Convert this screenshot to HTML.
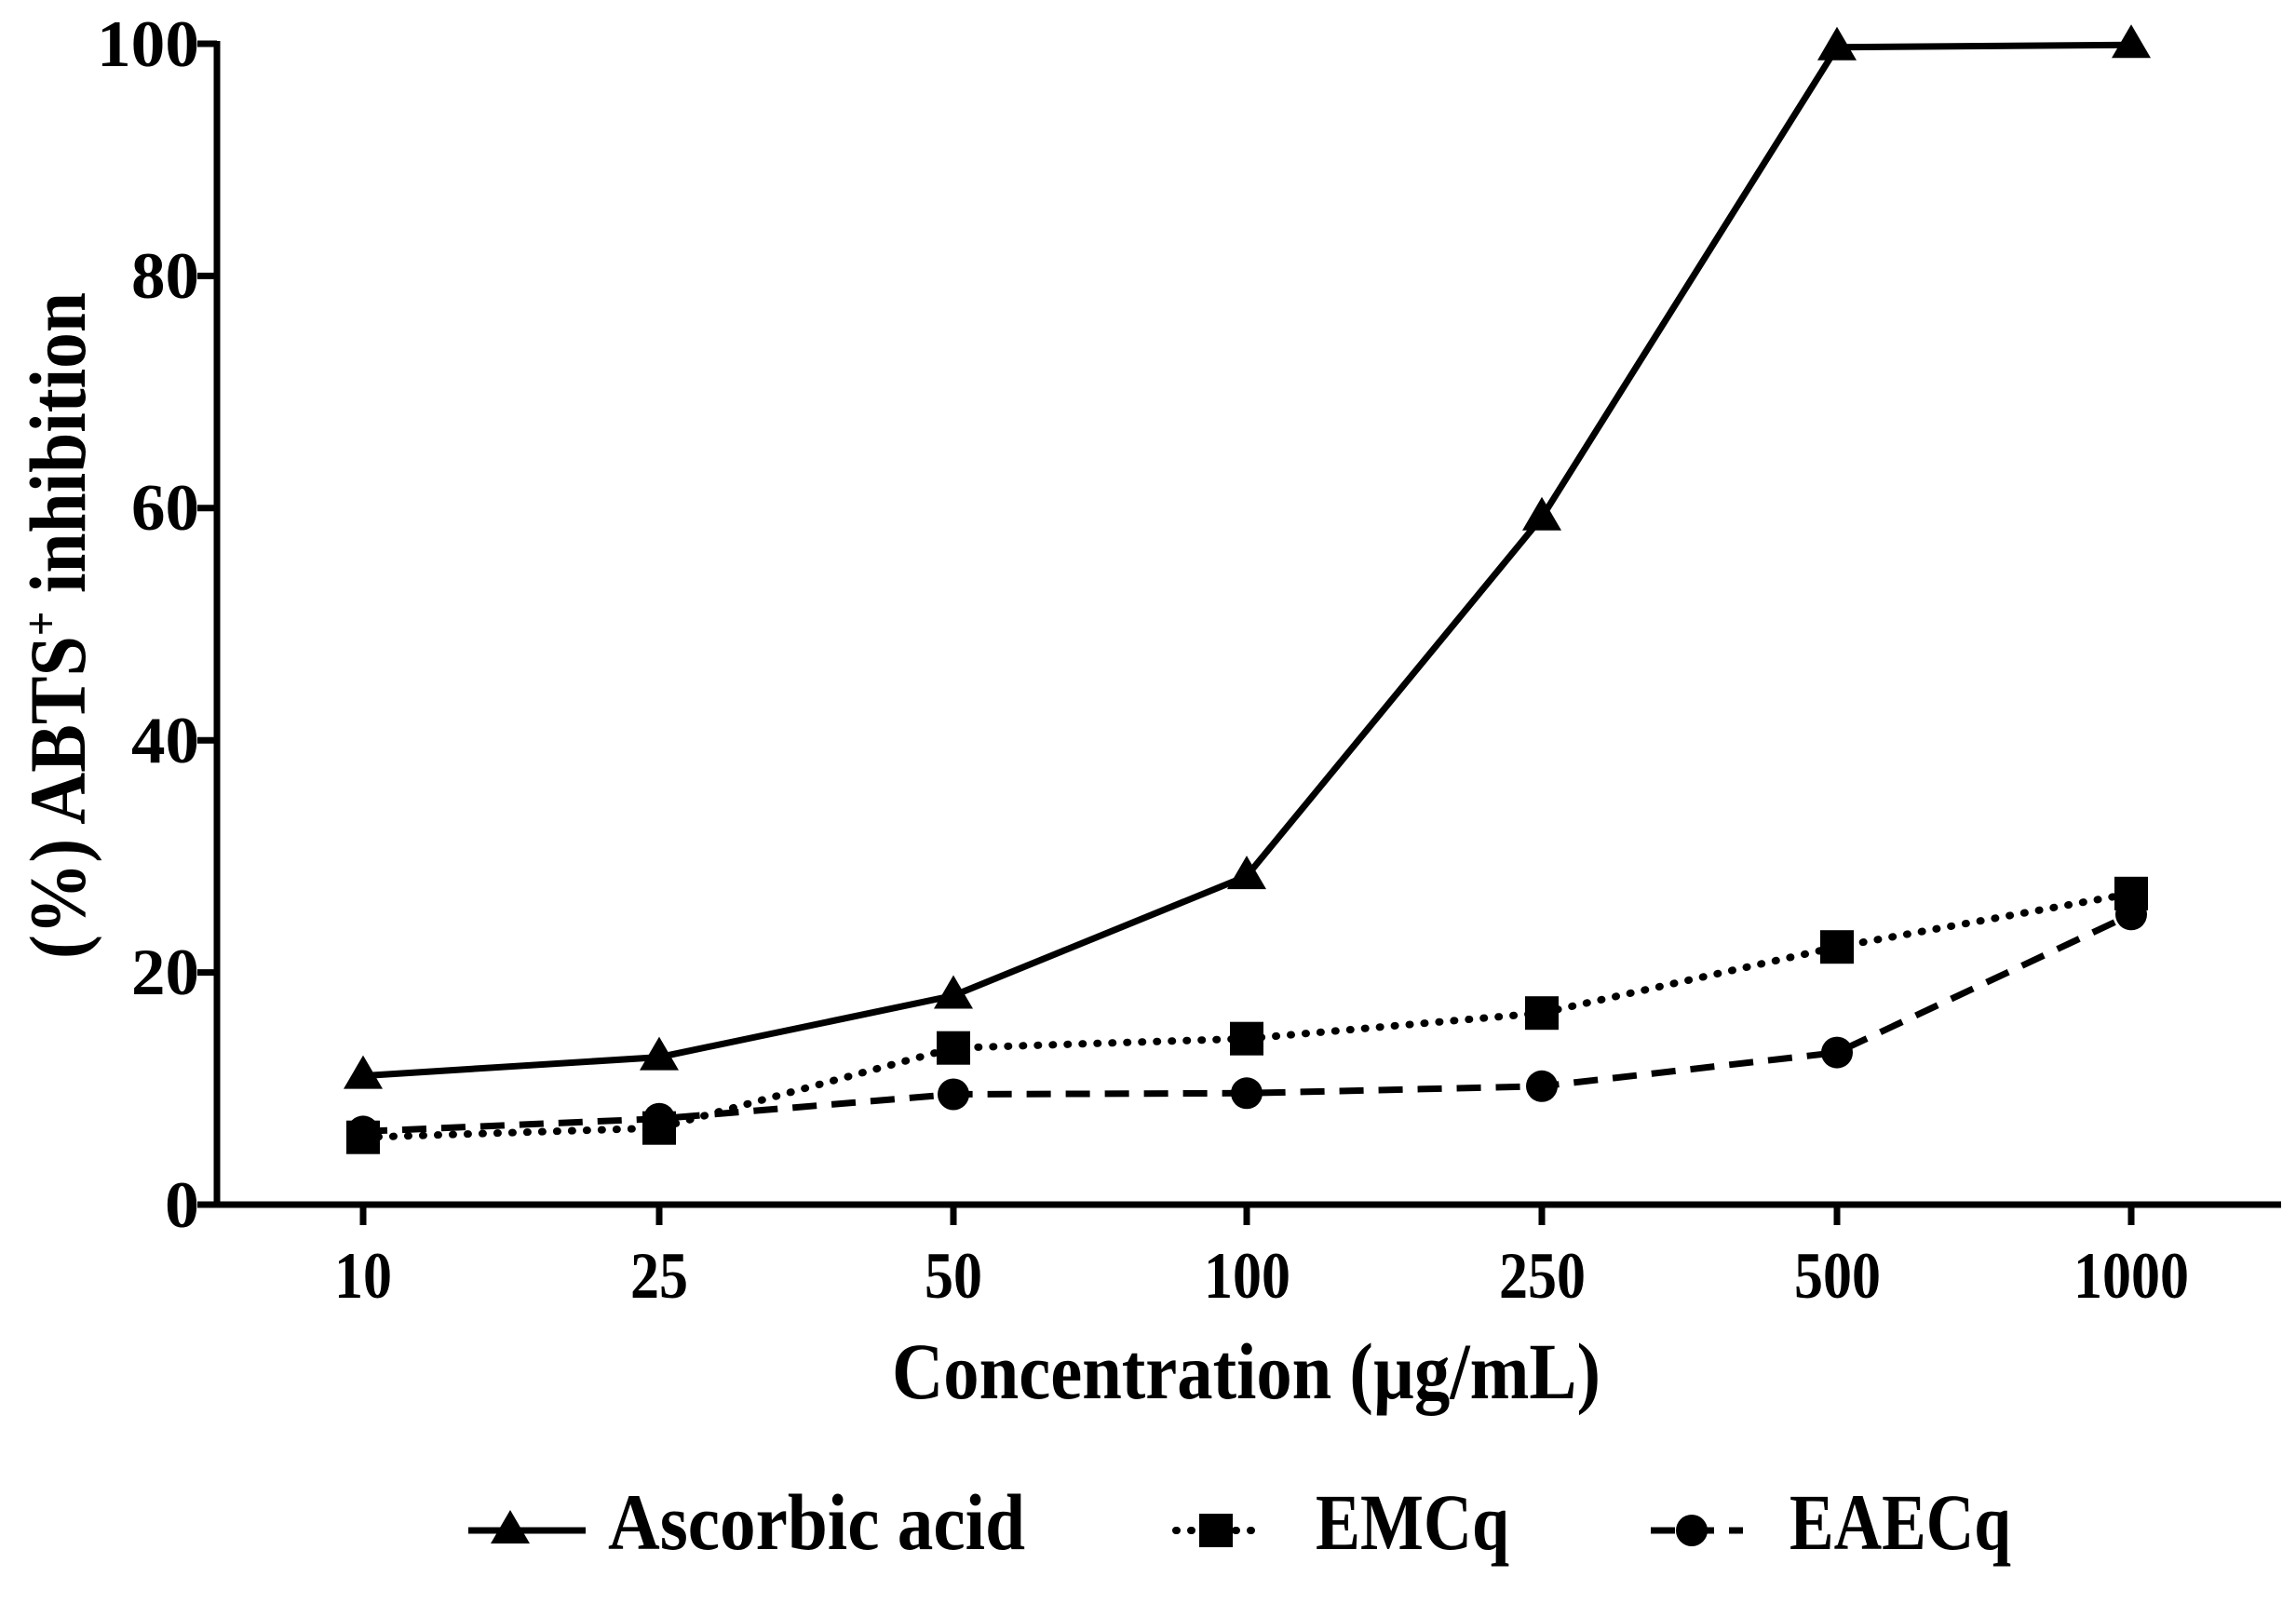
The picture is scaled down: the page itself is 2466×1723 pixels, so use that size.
<!DOCTYPE html>
<html><head><meta charset="utf-8"><style>
html,body{margin:0;padding:0;background:#fff;}
svg{display:block;}
text{font-family:"Liberation Serif",serif;font-weight:bold;fill:#000;}
</style></head><body>
<svg width="2466" height="1723" viewBox="0 0 2466 1723" xmlns="http://www.w3.org/2000/svg">
<defs>
<path id="tri" d="M0,-22 L21,14 L-21,14 Z"/>
</defs>
<g stroke="#000" stroke-width="7" fill="none">
<line x1="233" y1="44" x2="233" y2="1297"/>
<line x1="230" y1="1294" x2="2450" y2="1294"/>
<line x1="212" y1="47" x2="233" y2="47"/>
<line x1="212" y1="296.4" x2="233" y2="296.4"/>
<line x1="212" y1="545.8" x2="233" y2="545.8"/>
<line x1="212" y1="795.2" x2="233" y2="795.2"/>
<line x1="212" y1="1044.6" x2="233" y2="1044.6"/>
<line x1="212" y1="1294" x2="233" y2="1294"/>
<line x1="390" y1="1294" x2="390" y2="1316"/>
<line x1="708" y1="1294" x2="708" y2="1316"/>
<line x1="1024" y1="1294" x2="1024" y2="1316"/>
<line x1="1339" y1="1294" x2="1339" y2="1316"/>
<line x1="1656" y1="1294" x2="1656" y2="1316"/>
<line x1="1973" y1="1294" x2="1973" y2="1316"/>
<line x1="2289" y1="1294" x2="2289" y2="1316"/>
</g>
<g font-size="71" text-anchor="end">
<text x="214" y="71" textLength="110" lengthAdjust="spacingAndGlyphs">100</text>
<text x="214" y="320" textLength="73" lengthAdjust="spacingAndGlyphs">80</text>
<text x="214" y="569" textLength="73" lengthAdjust="spacingAndGlyphs">60</text>
<text x="214" y="819" textLength="73" lengthAdjust="spacingAndGlyphs">40</text>
<text x="214" y="1068" textLength="73" lengthAdjust="spacingAndGlyphs">20</text>
<text x="214" y="1318" textLength="37" lengthAdjust="spacingAndGlyphs">0</text>
</g>
<g font-size="71">
<text x="359" y="1394" textLength="62" lengthAdjust="spacingAndGlyphs">10</text>
<text x="677" y="1394" textLength="62" lengthAdjust="spacingAndGlyphs">25</text>
<text x="993" y="1394" textLength="62" lengthAdjust="spacingAndGlyphs">50</text>
<text x="1293" y="1394" textLength="93" lengthAdjust="spacingAndGlyphs">100</text>
<text x="1610" y="1394" textLength="93" lengthAdjust="spacingAndGlyphs">250</text>
<text x="1927" y="1394" textLength="93" lengthAdjust="spacingAndGlyphs">500</text>
<text x="2227" y="1394" textLength="124" lengthAdjust="spacingAndGlyphs">1000</text>
</g>
<text x="958" y="1502" font-size="86" textLength="761" lengthAdjust="spacingAndGlyphs">Concentration (µg/mL)</text>
<text transform="translate(91,1030) rotate(-90)" font-size="86" textLength="716" lengthAdjust="spacingAndGlyphs">(%) ABTS<tspan dy="-30" font-size="52">+</tspan><tspan dy="30"> inhibition</tspan></text>
<polyline fill="none" stroke="#000" stroke-width="7" points="390,1155.6 708,1135.6 1024,1069.5 1339,941.1 1656,555.8 1973,50.7 2289,48.2"/>
<polyline fill="none" stroke="#000" stroke-width="8" stroke-dasharray="1 15" stroke-linecap="round" points="390,1221.7 708,1211.7 1024,1125.7 1339,1115.7 1656,1088.2 1973,1017.2 2289,959.8"/>
<polyline fill="none" stroke="#000" stroke-width="7" stroke-dasharray="26 16" points="390,1215.4 708,1201.7 1024,1175.5 1339,1174.3 1656,1166.8 1973,1130.6 2289,982.3"/>
<g fill="#000">
<circle cx="390" cy="1215.4" r="17"/><circle cx="708" cy="1201.7" r="17"/><circle cx="1024" cy="1175.5" r="17"/><circle cx="1339" cy="1174.3" r="17"/><circle cx="1656" cy="1166.8" r="17"/><circle cx="1973" cy="1130.6" r="17"/><circle cx="2289" cy="982.3" r="17"/>
<rect x="372" y="1203.7" width="36" height="36"/><rect x="690" y="1193.7" width="36" height="36"/><rect x="1006" y="1107.7" width="36" height="36"/><rect x="1321" y="1097.7" width="36" height="36"/><rect x="1638" y="1070.2" width="36" height="36"/><rect x="1955" y="999.2" width="36" height="36"/><rect x="2271" y="941.8" width="36" height="36"/>
<use href="#tri" x="390" y="1155.6"/><use href="#tri" x="708" y="1135.6"/><use href="#tri" x="1024" y="1069.5"/><use href="#tri" x="1339" y="941.1"/><use href="#tri" x="1656" y="555.8"/><use href="#tri" x="1973" y="50.7"/><use href="#tri" x="2289" y="48.2"/>
</g>
<line x1="503" y1="1644" x2="629" y2="1644" stroke="#000" stroke-width="7"/>
<use href="#tri" x="548" y="1644"/>
<text x="653" y="1664" font-size="86" textLength="448" lengthAdjust="spacingAndGlyphs">Ascorbic acid</text>
<line x1="1263" y1="1644" x2="1353" y2="1644" stroke="#000" stroke-width="8" stroke-dasharray="1 15" stroke-linecap="round"/>
<rect x="1288" y="1626" width="36" height="36"/>
<text x="1413" y="1664" font-size="86" textLength="208" lengthAdjust="spacingAndGlyphs">EMCq</text>
<line x1="1773" y1="1644" x2="1872" y2="1644" stroke="#000" stroke-width="7" stroke-dasharray="26 16"/>
<circle cx="1817" cy="1644" r="17"/>
<text x="1922" y="1664" font-size="86" textLength="238" lengthAdjust="spacingAndGlyphs">EAECq</text>
</svg>
</body></html>
